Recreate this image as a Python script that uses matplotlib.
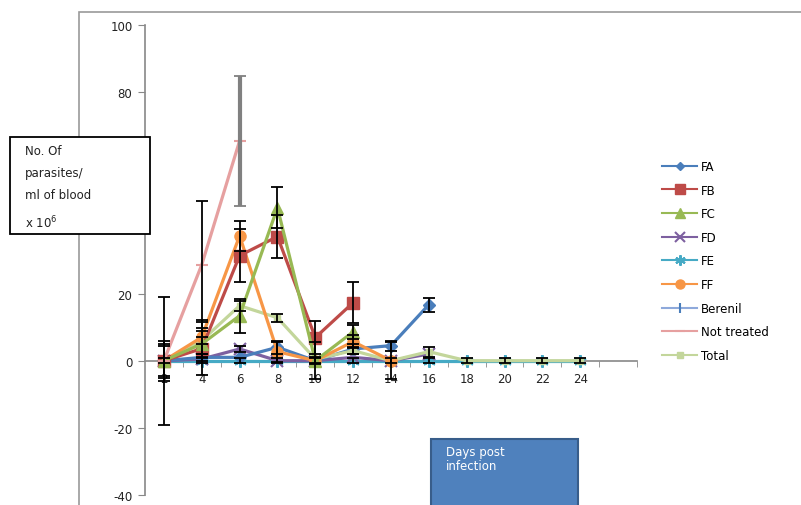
import numpy as np
import matplotlib
matplotlib.use("Agg")
import matplotlib.pyplot as plt
from matplotlib.patches import Rectangle

nan = np.nan
days = ["2", "4", "6", "8", "10", "12", "14", "16", "18", "20", "22", "24", ""]

FA = [0, 1, 1, 4, 0, 3.5, 4.5, 16.7]
FA_err = [0, 1, 0, 2, 0, 1.5, 1.5, 2.1]
FB = [0, 3.6, 31.3, 37, 6.9, 17.3]
FB_err = [6, 8, 8, 6.5, 5, 6]
FC = [0, 5, 13.4, 45.6, 0, 8.6]
FC_err = [4.5, 4, 5, 6.2, 5.5, 2]
FD = [0, 0.5, 3.5, 0, 0, 1, 0, 2]
FD_err = [0, 0, 1, 0, 0, 0, 0, 0]
FE = [0, 0, 0, 0, 0, 0, 0, 0, 0, 0, 0, 0]
FE_err = [0.8] * 12
FF = [0, 7, 37.2, 2.7, 0, 5.7, 0]
FF_err = [5, 5, 4.5, 3, 1, 2, 5.5]
Berenil = [0, 0, 0, 0, 0, 0, 0, 0, 0, 0, 0, 0]
Not_treated = [0, 28.6, 65.5]
NT_err = [19, 19, 19.3]
Total = [0, 6, 16.4, 12.8, 0.5, 3, 0, 2.7, 0, 0, 0, 0]
Total_err = [0, 1, 1.5, 1.2, 0, 1, 0, 1.5, 0, 0, 0, 0]

fig = plt.figure(figsize=(8.01, 5.06), dpi=100)
ax = fig.add_axes([145/801, 1-496/506, (637-145)/801, (496-26)/506])

# outer chart border
fig.patches.append(Rectangle((79/801, -0.1), 1.0, 1-13/506+0.1, transform=fig.transFigure,
                             fill=False, edgecolor="#9a9a9a", linewidth=1.2, clip_on=False))

series = [
    ("FA", FA, FA_err, "#4A7EBB", "D", 6, "#4A7EBB"),
    ("FB", FB, FB_err, "#BE4B48", "s", 8, "#BE4B48"),
    ("FC", FC, FC_err, "#98B954", "^", 8, "#98B954"),
    ("FD", FD, FD_err, "#7D60A0", "x", 8, "#7D60A0"),
    ("FE", FE, FE_err, "#46AAC5", (6, 2, 0), 9, "#46AAC5"),
    ("FF", FF, FF_err, "#F79646", "o", 8, "#F79646"),
    ("Berenil", Berenil, None, "#8EA9DB", "|", 8, "#4A7EBB"),
    ("Not treated", Not_treated, NT_err, "#E6A0A0", "_", 9, "#E6A0A0"),
    ("Total", Total, Total_err, "#C3D69B", "s", 5, "#C3D69B"),
]

order_z = {"Berenil": 2, "FE": 3, "FD": 4, "FA": 5, "Total": 6, "FF": 7, "FB": 8, "FC": 9, "Not treated": 10}
for name, vals, err, col, mk, ms, mcol in series:
    x = np.arange(len(vals))
    lw = 1.3 if name == "Berenil" else 2.3
    ax.plot(x, vals, color=col, lw=lw, marker=mk, markersize=ms, markerfacecolor=mcol,
            markeredgecolor=mcol, markeredgewidth=1.5 if mk in ("x", "|", "_") or isinstance(mk, tuple) else 1,
            label=name, zorder=order_z[name])
    if err is not None:
        err = np.asarray(err, dtype=float)
        vals = np.asarray(vals, dtype=float)
        keep = err > 0
        if name == "Not treated":
            ax.errorbar(x[:2], vals[:2], yerr=err[:2], fmt="none", ecolor="black", elinewidth=1.3,
                        capsize=4, capthick=1.3, zorder=11)
            ax.errorbar(x[2:], vals[2:], yerr=err[2:], fmt="none", ecolor="#808080", elinewidth=3,
                        capsize=4, capthick=1.3, zorder=11)
        else:
            ax.errorbar(x[keep], vals[keep], yerr=err[keep], fmt="none", ecolor="black",
                        elinewidth=1.3, capsize=4, capthick=1.3, zorder=11)

ax.set_xlim(-0.5, 12.5)
ax.set_ylim(-40, 100)
ax.set_yticks([-40, -20, 0, 20, 40, 60, 80, 100])
ax.set_yticklabels(["-40", "-20", "0", "20", "40", "60", "80", "100"])
ax.set_xticks(np.arange(13))
ax.set_xticklabels(days)
ax.set_xticks(np.arange(13) + 0.5, minor=True)
ax.tick_params(axis="x", which="major", length=0, pad=8, labelsize=8.5, labelcolor="#222222")
ax.tick_params(axis="x", which="minor", length=4, color="#888888", direction="out")
ax.tick_params(axis="y", which="major", length=5, color="#888888", labelsize=8.5,
               labelcolor="#222222", pad=4)
for s in ["top", "right"]:
    ax.spines[s].set_visible(False)
ax.spines["bottom"].set_position(("data", 0))
ax.spines["bottom"].set_color("#888888")
ax.spines["left"].set_color("#888888")
ax.spines["bottom"].set_linewidth(1.2)
ax.spines["left"].set_linewidth(1.2)
ax.patch.set_visible(False)

# y label box
fig.patches.append(Rectangle((10/801, 1-235/506), 140/801, 97/506, transform=fig.transFigure,
                             facecolor="white", edgecolor="black", linewidth=1.3, zorder=20))
fig.text(25/801, 1-145/506, "No. Of\nparasites/\nml of blood\nx 10$^6$", fontsize=8.5,
         ha="left", va="top", color="#222222", linespacing=1.9, zorder=21)

# x label box
fig.patches.append(Rectangle((431/801, -0.05), 147/801, (506-440)/506+0.05, transform=fig.transFigure,
                             facecolor="#4F81BD", edgecolor="#385D8A", linewidth=1.5, zorder=20))
fig.text(446/801, 1-446/506, "Days post\ninfection", fontsize=8.5, ha="left", va="top",
         color="white", zorder=21, linespacing=1.1)

leg = ax.legend(loc="upper left", bbox_to_anchor=(662/801, 1-161/506), bbox_transform=fig.transFigure,
                frameon=False, fontsize=8.5, handlelength=3.0, labelspacing=0.9, handletextpad=0.3,
                borderaxespad=0, borderpad=0)
for h in leg.get_lines():
    h.set_linewidth(1.5)
    h.set_markersize(max(h.get_markersize() - 1.5, 4))

fig.savefig("out.png", dpi=100)
